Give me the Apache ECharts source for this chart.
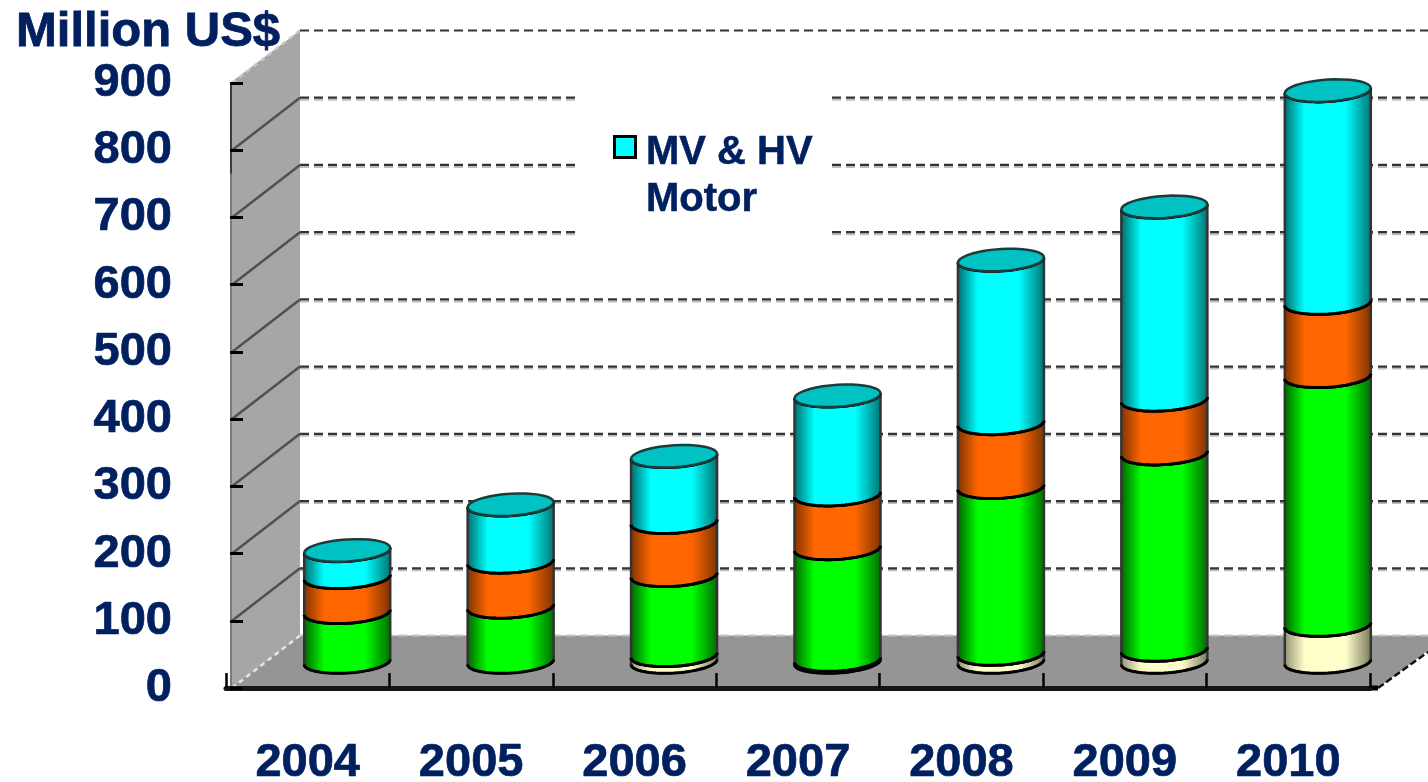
<!DOCTYPE html>
<html><head><meta charset="utf-8">
<style>html,body{margin:0;padding:0;background:#fff}#c{width:1428px;height:782px}</style>
<script src="https://cdn.jsdelivr.net/npm/echarts@6/dist/echarts.min.js"></script>
</head><body><div id="c"></div>
<script>
const years = ['2004','2005','2006','2007','2008','2009','2010'];
const yMax = 900;
const yStep = 100;
const cream  = [0, 0, 10, 3, 12, 18, 55];
const green  = [74, 82, 119, 166, 248, 292, 370];
const orange = [52, 67, 79, 80, 95, 80, 109];
const cyan   = [40, 85, 98, 147, 243, 287, 316];
const legendLabel = 'MV & HV\nMotor';
const NAVY = '#002060', FONT = '"Liberation Sans", Arial, sans-serif';

const BAR_DX = 39.5, BAR_DY = -26, RX = 43, RY = 11, SHEAR = 0.06;
const WALL_DX = 70, WALL_DY = -52.5, AXIS_INSET = 4, AXIS_DARK_FROM = 765;

function arc(cx, cy, from, to) {
  const pts = [], n = 36;
  for (let k = 0; k <= n; k++) {
    const t = from + (to - from) * k / n;
    const ex = RX * Math.cos(t);
    pts.push([cx + ex, cy + RY * Math.sin(t) - SHEAR * ex]);
  }
  return pts;
}
function shade(edgeL, mid, edgeR) {
  return new echarts.graphic.LinearGradient(0, 0, 1, 0, [
    {offset: 0, color: edgeL}, {offset: 0.24, color: mid},
    {offset: 0.7, color: mid}, {offset: 1, color: edgeR}
  ]);
}
function segmentSeries(name, values, offsets, cols, withCap) {
  return {
    type: 'custom', name, coordinateSystem: 'cartesian2d', z: 10, clip: false, silent: true,
    encode: {x: 0, y: [1, 2]},
    data: values.map((v, i) => [i, offsets[i], offsets[i] + v]),
    renderItem(params, api) {
      const i = api.value(0), lo = api.value(1), hi = api.value(2);
      if (hi - lo <= 0) return;
      const pLo = api.coord([i, lo]), pHi = api.coord([i, hi]);
      const cx = pLo[0] + BAR_DX, yLo = pLo[1] + BAR_DY, yHi = pHi[1] + BAR_DY;
      const pts = arc(cx, yLo, Math.PI, 0).concat(arc(cx, yHi, 0, Math.PI));
      const children = [{
        type: 'polygon', shape: {points: pts},
        style: {fill: shade(cols[0], cols[1], cols[2]), stroke: '#333', lineWidth: 2.5}
      }, {
        type: 'polyline', shape: {points: arc(cx, yLo, Math.PI, 0)},
        style: {fill: 'none', stroke: '#000', lineWidth: 3}
      }, {
        type: 'polyline', shape: {points: arc(cx, yHi, Math.PI, 0)},
        style: {fill: 'none', stroke: '#000', lineWidth: 3}
      }];
      if (withCap) {
        children.push({
          type: 'polygon', shape: {points: arc(cx, yHi, 0, Math.PI * 2)},
          style: {fill: '#00C2C2', stroke: '#1c3c3c', lineWidth: 2.5}
        });
      }
      return {type: 'group', children};
    }
  };
}
function cumulative(...arrs) {
  return years.map((_, i) => arrs.reduce((s, a) => s + a[i], 0));
}
const zeros = years.map(() => 0);

const yTicks = [];
for (let v = 0; v <= yMax; v += yStep) yTicks.push(v);

const backdrop = {
  type: 'custom', coordinateSystem: 'cartesian2d', z: 1, clip: false, silent: true,
  data: [[0, 0]],
  renderItem(params, api) {
    const s = params.coordSys, x0 = s.x + AXIS_INSET;
    const yB = api.coord([0, 0])[1], yT = api.coord([0, yMax])[1], yD = api.coord([0, AXIS_DARK_FROM])[1];
    const xW = x0 + WALL_DX, R = s.x + s.width, W = api.getWidth();
    const c = [
      {type: 'polygon', shape: {points: [[x0, yB], [x0, yT], [xW, yT + WALL_DY], [xW, yB + WALL_DY]]},
        style: {fill: '#A6A6A6'}},
      {type: 'polygon', shape: {points: [[x0, yB], [xW, yB + WALL_DY], [W + 20, yB + WALL_DY], [R + 8, yB]]},
        style: {fill: '#959595'}},
      {type: 'line', shape: {x1: x0 + 1, y1: yB, x2: x0 + 1, y2: yD}, style: {stroke: '#7A7A7A', lineWidth: 2}},
      {type: 'line', shape: {x1: x0 + 1, y1: yD, x2: x0 + 1, y2: yT}, style: {stroke: '#3C3C3C', lineWidth: 2}},
      {type: 'line', shape: {x1: R, y1: yB, x2: R + 8, y2: yB}, style: {stroke: '#000', lineWidth: 5}},
      {type: 'line', shape: {x1: R + 8, y1: yB, x2: W + 20, y2: yB + WALL_DY + 2},
        style: {stroke: '#111', lineWidth: 2.5, lineDash: [7, 3]}}
    ];
    yTicks.forEach(v => {
      const y = api.coord([0, v])[1];
      const top = v === yMax, floor = v === 0;
      c.push({type: 'line', shape: {x1: x0 + 2, y1: y, x2: xW, y2: y + WALL_DY},
        style: {stroke: floor ? '#E4E4E4' : (top ? '#C8C8C8' : '#505050'), lineWidth: 2.5,
                lineDash: (floor || top) ? [5, 4] : null}});
      if (floor) {
        c.push({type: 'line', shape: {x1: xW, y1: y + WALL_DY, x2: W, y2: y + WALL_DY},
          style: {stroke: '#C4C4C4', lineWidth: 2, lineDash: [9, 5]}});
        return;
      }
      if (!top) c.push({type: 'line', shape: {x1: xW, y1: y + WALL_DY + 2, x2: W, y2: y + WALL_DY + 2},
        style: {stroke: '#BDBDBD', lineWidth: 2, lineDash: [9, 5]}});
      c.push({type: 'line', shape: {x1: xW, y1: y + WALL_DY, x2: W, y2: y + WALL_DY},
        style: {stroke: '#333', lineWidth: 2.2, lineDash: [9, 5]}});
    });
    return {type: 'group', children: c};
  }
};

const chart = echarts.init(document.getElementById('c'), null, {renderer: 'canvas'});
chart.setOption({
  animation: false,
  backgroundColor: '#fff',
  title: {text: 'Million US$', left: 11, top: 3,
    textStyle: {fontFamily: FONT, fontWeight: 'bold', fontSize: 49, color: NAVY,
      textBorderColor: NAVY, textBorderWidth: 0.8}},
  grid: {left: 226, right: 58, top: 83, bottom: 94, containLabel: false, outerBoundsMode: 'none'},
  xAxis: {
    type: 'category', data: years, z: 4,
    axisLine: {lineStyle: {color: '#151515', width: 5}},
    axisTick: {show: true, inside: true, length: 15, lineStyle: {color: '#000', width: 2.5}},
    axisLabel: {fontFamily: FONT, fontWeight: 'bold', fontSize: 47, color: NAVY, margin: 52,
      textBorderColor: NAVY, textBorderWidth: 0.7},
    splitLine: {show: false}
  },
  yAxis: {
    type: 'value', min: 0, max: yMax, interval: yStep, offset: -AXIS_INSET, z: 4,
    axisLine: {show: false},
    axisTick: {show: true, inside: true, length: 13, lineStyle: {color: '#000', width: 3}},
    axisLabel: {fontFamily: FONT, fontWeight: 'bold', fontSize: 47, color: NAVY, margin: 58,
      padding: [7, 0, 0, 0], textBorderColor: NAVY, textBorderWidth: 0.7},
    splitLine: {show: false}
  },
  graphic: [
    {type: 'rect', z: 5, shape: {x: 580, y: 90, width: 250, height: 150}, style: {fill: '#fff'}},
    {type: 'rect', z: 6, shape: {x: 614.5, y: 136.5, width: 21, height: 21},
      style: {fill: '#00FFFF', stroke: '#000', lineWidth: 3}},
    {type: 'text', z: 6, x: 646, y: 129,
      style: {text: legendLabel, fontFamily: FONT, fontWeight: 'bold', fontSize: 40, lineHeight: 47, fill: NAVY,
        stroke: NAVY, lineWidth: 0.5}}
  ],
  series: [
    backdrop,
    segmentSeries('Cream', cream, zeros, ['#8E8E6E', '#FFFFCC', '#77775A'], false),
    segmentSeries('Green', green, cumulative(cream), ['#006000', '#00FF00', '#006800'], false),
    segmentSeries('Orange', orange, cumulative(cream, green), ['#7A3200', '#FF6600', '#7A3200'], false),
    segmentSeries('MV & HV Motor', cyan, cumulative(cream, green, orange), ['#006666', '#00FFFF', '#007070'], true)
  ]
});
</script></body></html>
